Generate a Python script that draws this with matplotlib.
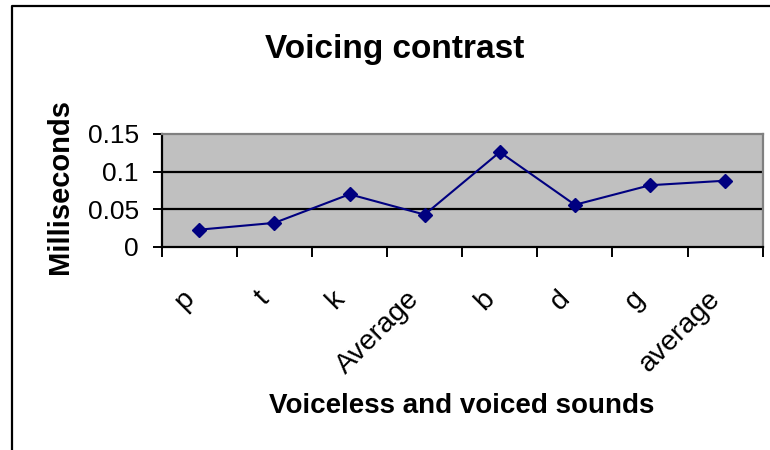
import matplotlib
matplotlib.use("Agg")
import matplotlib.pyplot as plt
from matplotlib.lines import Line2D
from matplotlib.ticker import FixedLocator

plt.rcParams['font.family'] = ['Liberation Sans', 'DejaVu Sans']

sounds = ['p', 't', 'k', 'Average', 'b', 'd', 'g', 'average']
durations = [0.023, 0.032, 0.070, 0.043, 0.126, 0.056, 0.082, 0.088]
y_ticks = [0, 0.05, 0.1, 0.15]
y_tick_labels = ['0', '0.05', '0.1', '0.15']

W, H = 770, 450
fig = plt.figure(figsize=(W / 100, H / 100), dpi=100)

# plot area placed in pixel terms
left, right, top, bottom = 161.7, 762.7, 134, 247
ax = fig.add_axes([left / W, 1 - bottom / H, (right - left) / W, (bottom - top) / H])
ax.set_facecolor('#c0c0c0')

x = list(range(1, len(sounds) + 1))
ax.plot(x, durations, color='#000080', lw=1.5, marker='D', ms=7,
        markerfacecolor='#000080', markeredgecolor='#000080', zorder=3)

ax.set_xlim(0.5, len(sounds) + 0.5)
ax.set_ylim(0, 0.15)

# horizontal gridlines
for v in y_ticks[1:3]:
    ax.axhline(v, color='black', lw=1.6, zorder=1)

ax.set_yticks(y_ticks)
ax.set_yticklabels(y_tick_labels, fontsize=19)
ax.tick_params(axis='y', direction='out', length=6.5, width=1.4, pad=10)

ax.set_xticks(x)
ax.set_xticklabels(sounds, fontsize=20.5, rotation=45, ha='right', va='top')
ax.tick_params(axis='x', which='major', length=0, pad=28)
ax.xaxis.set_minor_locator(FixedLocator([i + 0.5 for i in range(0, len(sounds) + 1)]))
ax.tick_params(axis='x', which='minor', direction='out', length=7, width=1.4)

for side in ['left', 'bottom']:
    ax.spines[side].set_color('black')
    ax.spines[side].set_linewidth(1.6)
for side in ['top', 'right']:
    ax.spines[side].set_color('#808080')
    ax.spines[side].set_linewidth(1.6)

fig.text(395 / W, 1 - 58 / H, 'Voicing contrast', fontsize=24, fontweight='bold',
         ha='center', va='baseline')
fig.text(462 / W, 1 - 413 / H, 'Voiceless and voiced sounds', fontsize=20,
         fontweight='bold', ha='center', va='baseline')
fig.text(60 / W, 1 - 187 / H, 'Milliseconds', fontsize=21, fontweight='bold',
         rotation=90, ha='center', va='center')

# chart border (right and bottom edges run off the canvas)
fig.add_artist(Line2D([12 / W, 12 / W, 1.02], [-0.02, 1 - 6 / H, 1 - 6 / H],
                      color='black', lw=1.6, transform=fig.transFigure))

fig.savefig('out.png', dpi=100, facecolor='white')
